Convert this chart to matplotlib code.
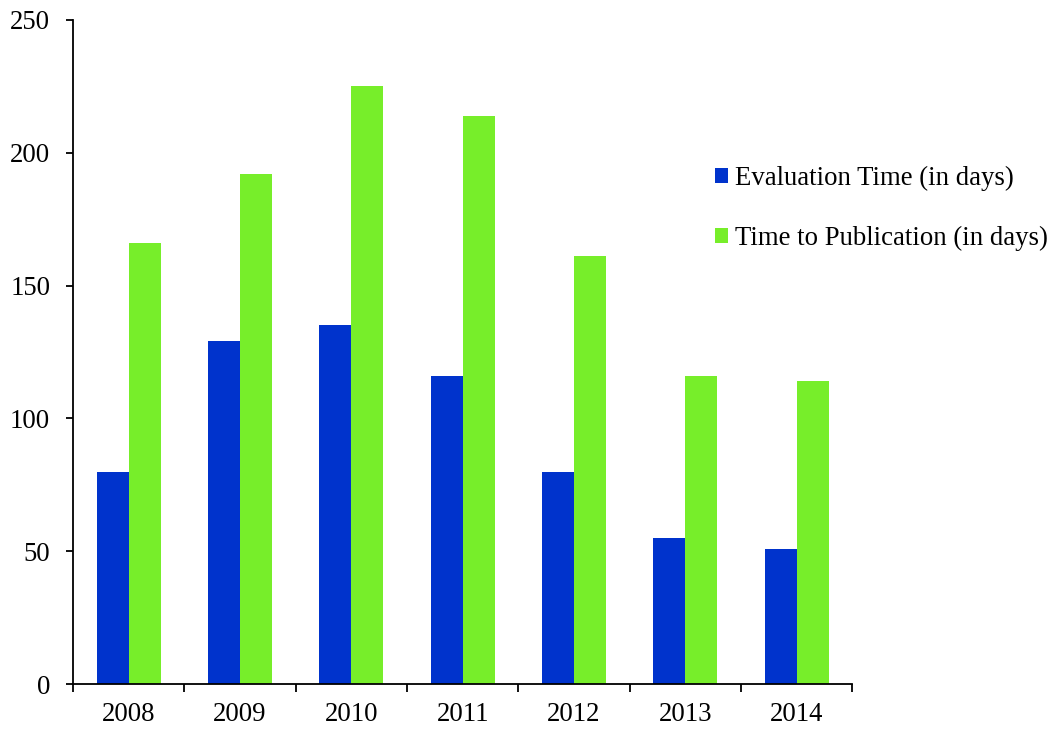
import matplotlib
matplotlib.use("Agg")
import matplotlib.pyplot as plt
import numpy as np

years = ["2008", "2009", "2010", "2011", "2012", "2013", "2014"]
evaluation_time = [80, 129, 135, 116, 80, 55, 51]
time_to_publication = [166, 192, 225, 214, 161, 116, 114]

plt.rcParams['font.family'] = ['Liberation Serif', 'DejaVu Serif']

fig = plt.figure(figsize=(10.51, 7.29), dpi=100)
ax = fig.add_axes([0.0695, 0.0617, 0.7415, 0.9109])

x = np.arange(len(years))
w = 0.288
ax.bar(x - w / 2, evaluation_time, w, color='#0033CC', label='Evaluation Time (in days)')
ax.bar(x + w / 2, time_to_publication, w, color='#77EE2A', label='Time to Publication (in days)')

ax.set_xlim(-0.5, len(years) - 0.5)
ax.set_ylim(0, 250)
ax.set_yticks([0, 50, 100, 150, 200, 250])

# category labels centred, tick marks on the boundaries
ax.set_xticks(x)
ax.set_xticklabels(years)
ax.set_xticks(np.arange(len(years) + 1) - 0.5, minor=True)
ax.tick_params(axis='x', which='major', length=0, pad=13, labelsize=19.3)
ax.tick_params(axis='x', which='minor', length=6, width=1.3, direction='out')
ax.tick_params(axis='y', length=5, width=1.3, direction='out', pad=11.5, labelsize=19.3)

for s in ['top', 'right']:
    ax.spines[s].set_visible(False)
for s in ['left', 'bottom']:
    ax.spines[s].set_linewidth(1.3)

ax.legend(loc='upper left', bbox_to_anchor=(0.680, 0.772), bbox_transform=fig.transFigure,
          frameon=False, fontsize=19.3, handlelength=0.5, handleheight=0.5,
          handletextpad=0.27, labelspacing=1.3, borderpad=0, borderaxespad=0)

fig.savefig('out.png', dpi=100)
